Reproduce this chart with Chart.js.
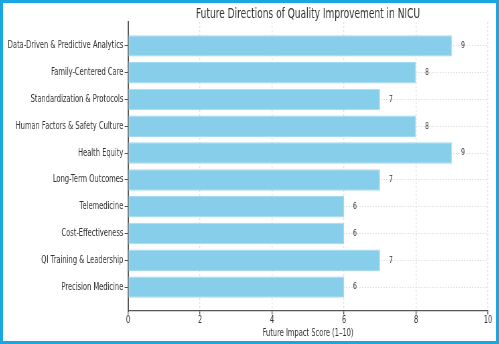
<!DOCTYPE html>
<html>
<head>
<meta charset="utf-8">
<script src="https://cdn.jsdelivr.net/npm/chart.js@4.4.1/dist/chart.umd.min.js"></script>
<style>
  body { margin: 0; background: #fff; }
  #frame {
    position: absolute; left: 0; top: 0;
    width: 499px; height: 344px;
    box-sizing: border-box;
    border: 3px solid #19a7e1;
    overflow: hidden;
    background: #fff;
  }
  /* the original picture was squeezed sideways, so squeeze the canvas too */
  #chart { display: block; transform: scaleX(0.66984); transform-origin: 0 0; }
</style>
</head>
<body>
<div id="frame">
  <canvas id="chart" width="736" height="338"></canvas>
</div>
<script>
// chart data
const categories = [
  'Data-Driven & Predictive Analytics',
  'Family-Centered Care',
  'Standardization & Protocols',
  'Human Factors & Safety Culture',
  'Health Equity',
  'Long-Term Outcomes',
  'Telemedicine',
  'Cost-Effectiveness',
  'QI Training & Leadership',
  'Precision Medicine'
];
const scores = [9, 8, 7, 8, 9, 7, 6, 6, 7, 6];
const xTicks = [0, 2, 4, 6, 8, 10];
const chartTitle = 'Future Directions of Quality Improvement in NICU';
const xTitle = 'Future Impact Score (1–10)';

Chart.defaults.font.family = "'DejaVu Sans', sans-serif";
Chart.defaults.color = '#333';

// value labels next to bars + title over the plot area
const annotate = {
  id: 'annotate',
  afterDatasetsDraw(chart) {
    const ctx = chart.ctx;
    const meta = chart.getDatasetMeta(0);
    ctx.save();
    ctx.font = "9px 'DejaVu Sans'";
    ctx.fillStyle = '#333';
    ctx.textBaseline = 'middle';
    ctx.textAlign = 'left';
    meta.data.forEach((bar, i) => {
      ctx.fillText(String(scores[i]), bar.x + 13.4, bar.y);
    });
    ctx.restore();
  },
  afterDraw(chart) {
    const ctx = chart.ctx;
    const area = chart.chartArea;
    ctx.save();
    ctx.font = "13.5px 'DejaVu Sans'";
    ctx.fillStyle = '#333';
    ctx.textAlign = 'center';
    ctx.textBaseline = 'alphabetic';
    ctx.fillText(chartTitle, (area.left + area.right) / 2, 15);
    ctx.restore();
  }
};

const ctx = document.getElementById('chart').getContext('2d');

new Chart(ctx, {
  type: 'bar',
  data: {
    datasets: [{
      data: categories.map((c, i) => ({ x: scores[i], y: i })),
      backgroundColor: '#87ceeb',
      borderColor: '#a3daef',
      borderWidth: 1,
      borderSkipped: false,
      barPercentage: 0.8,
      categoryPercentage: 1
    }]
  },
  options: {
    indexAxis: 'y',
    responsive: false,
    animation: false,
    devicePixelRatio: 1,
    layout: { padding: { top: 19, right: 11.95, left: 0, bottom: 0 } },
    plugins: {
      legend: { display: false },
      tooltip: { enabled: false }
    },
    scales: {
      y: {
        type: 'linear',
        reverse: true,
        offset: false,
        min: -0.89,
        max: 9.89,
        afterBuildTicks: s => { s.ticks = categories.map((c, i) => ({ value: i })); },
        afterFit: s => { s.width = 186.6; },
        ticks: {
          autoSkip: false,
          padding: 2,
          font: { size: 10 },
          color: '#333',
          callback: v => categories[v]
        },
        grid: { offset: false, color: '#e0e0e0', lineWidth: 1, tickColor: '#555', tickLength: 5 },
        border: { color: '#555', width: 2, dash: [2, 2] }
      },
      x: {
        type: 'linear',
        min: 0,
        max: 10,
        afterBuildTicks: s => { s.ticks = xTicks.map(v => ({ value: v })); },
        afterFit: s => { s.height = 30; },
        ticks: { padding: 0, font: { size: 10 }, color: '#333' },
        grid: { color: '#e0e0e0', lineWidth: 1.4, tickColor: '#555', tickLength: 3.5 },
        border: { color: '#555', width: 1.3, dash: [2, 2] },
        title: {
          display: true,
          text: xTitle,
          font: { size: 10 },
          color: '#333',
          padding: { top: 0, bottom: 2 }
        }
      }
    }
  },
  plugins: [annotate]
});
</script>
</body>
</html>
